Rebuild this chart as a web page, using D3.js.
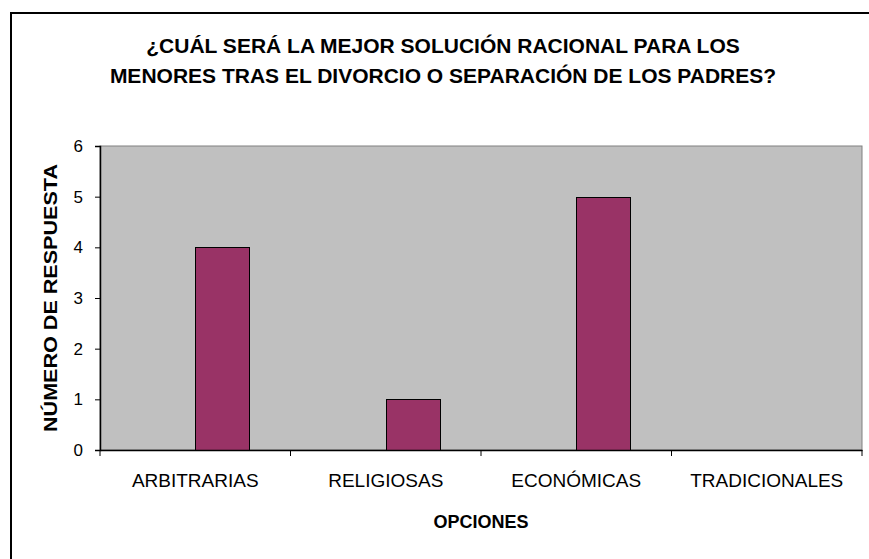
<!DOCTYPE html>
<html><head><meta charset="utf-8">
<script src="https://cdn.jsdelivr.net/npm/d3@7"></script>
<style>html,body{margin:0;padding:0;background:#fff;}svg{display:block;}</style>
</head><body>
<script>
const categories = ["ARBITRARIAS","RELIGIOSAS","ECONÓMICAS","TRADICIONALES"];
const seriesSlots = ["Serie1","Serie2"];
const drawnSeries = "Serie2";
const values = [4, 1, 5, 0];
const yTicks = [0,1,2,3,4,5,6];
const titleLines = ["¿CUÁL SERÁ LA MEJOR SOLUCIÓN RACIONAL PARA LOS","MENORES TRAS EL DIVORCIO O SEPARACIÓN DE LOS PADRES?"];
const yTitle = "NÚMERO DE RESPUESTA";
const xTitle = "OPCIONES";

const W = 869, H = 559;
const m = {left:100, right:7, top:146, bottom:109};
const FONT = "Liberation Sans, Arial, sans-serif";
const svg = d3.select("body").append("svg").attr("width",W).attr("height",H);
svg.append("rect").attr("width",W).attr("height",H).attr("fill","#fff");
// outer chart border
svg.append("path").attr("d",`M11,${H+2}V13H${W+2}`).attr("fill","none").attr("stroke","#000").attr("stroke-width",2);

const x = d3.scaleBand().domain(categories).range([m.left, W-m.right]).paddingInner(0).paddingOuter(0);
const x1 = d3.scaleBand().domain(seriesSlots).range([0, x.bandwidth()]).paddingInner(0).paddingOuter(0.75);
const y = d3.scaleLinear().domain([0,6]).range([H-m.bottom, m.top]);

// plot area
svg.append("rect").attr("x",m.left).attr("y",m.top).attr("width",W-m.right-m.left).attr("height",H-m.bottom-m.top)
  .attr("fill","#c0c0c0").attr("stroke","#808080").attr("stroke-width",1);

// bars
svg.append("g").selectAll("rect").data(categories.map((c,i)=>({c,v:values[i]})).filter(d=>d.v>0)).join("rect")
  .attr("x",d=>Math.round(x(d.c)+x1(drawnSeries))+0.5)
  .attr("y",d=>Math.round(y(d.v))+0.5)
  .attr("width",Math.round(x1.bandwidth()))
  .attr("height",d=>Math.round(y(0))-Math.round(y(d.v)))
  .attr("fill","#993366").attr("stroke","#000").attr("stroke-width",1);

// y axis
const ya = svg.append("g").attr("transform",`translate(${m.left},0)`)
  .call(d3.axisLeft(y).tickValues(yTicks).tickFormat(d3.format("d")).tickSize(5).tickPadding(12));
ya.select(".domain").attr("stroke","#000").attr("stroke-width",1.5);
ya.selectAll("line").attr("stroke","#000");
ya.selectAll("text").attr("font-family",FONT).attr("font-size",17).attr("fill","#000");

// x axis
const xa = svg.append("g").attr("transform",`translate(0,${H-m.bottom})`)
  .call(d3.axisBottom(x).tickSize(0).tickPadding(24));
xa.select(".domain").attr("stroke","#000").attr("stroke-width",1.5);
xa.selectAll("text").attr("font-family",FONT).attr("font-size",19).attr("fill","#000");
// category boundary ticks
const bounds = categories.map(c=>x(c)).concat([x(categories[categories.length-1])+x.bandwidth()]);
xa.append("g").selectAll("line").data(bounds).join("line")
  .attr("x1",d=>d).attr("x2",d=>d).attr("y1",0).attr("y2",6).attr("stroke","#000");

// titles
const t = svg.append("text").attr("text-anchor","middle").attr("font-family",FONT)
  .attr("font-weight","bold").attr("font-size",21).attr("fill","#000");
t.selectAll("tspan").data(titleLines).join("tspan")
  .attr("x",443).attr("y",(d,i)=>53+i*30).text(d=>d);

svg.append("text").attr("transform",`translate(57,${(m.top+H-m.bottom)/2}) rotate(-90)`)
  .attr("text-anchor","middle").attr("font-family",FONT)
  .attr("font-weight","bold").attr("font-size",18).attr("textLength",268).attr("lengthAdjust","spacingAndGlyphs")
  .attr("fill","#000").text(yTitle);

svg.append("text").attr("x",481).attr("y",528).attr("text-anchor","middle")
  .attr("font-family",FONT).attr("font-weight","bold").attr("font-size",18)
  .attr("fill","#000").text(xTitle);
</script>
</body></html>
